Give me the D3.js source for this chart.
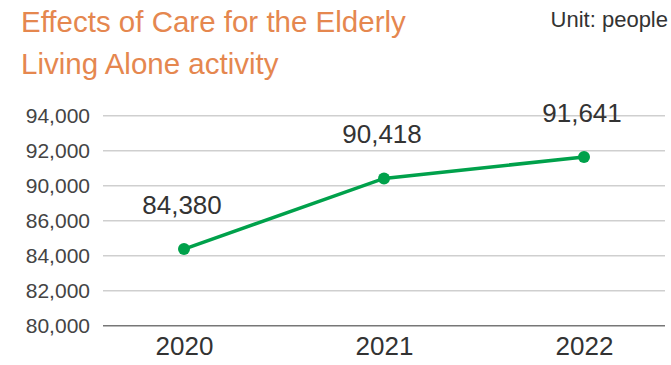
<!DOCTYPE html>
<html>
<head>
<meta charset="utf-8">
<script src="https://cdn.jsdelivr.net/npm/d3@7"></script>
<style>
  body { margin: 0; background: #fff; }
  text { font-family: "Liberation Sans", Arial, sans-serif; }
</style>
</head>
<body>
<div id="chart"></div>
<script>
// chart data
const years = ['2020', '2021', '2022'];
const people = [84380, 90418, 91641];
// the original axis skips 88,000 between 90,000 and 86,000
const tickValues = [80000, 82000, 84000, 86000, 90000, 92000, 94000];
const titleLines = ['Effects of Care for the Elderly', 'Living Alone activity'];
const unitLabel = 'Unit: people';

const width = 671, height = 365;
const plotLeft = 103, plotRight = 665, plotTop = 115.7, plotBottom = 325.7;

const svg = d3.select('#chart').append('svg')
    .attr('width', width)
    .attr('height', height);

// x: point scale over the years
const x = d3.scalePoint()
    .domain(years)
    .range([plotLeft, plotRight])
    .padding(0.405);

// y: one gridline per tick label, evenly spaced
const y = d3.scaleLinear()
    .domain(tickValues)
    .range(tickValues.map((d, i) => plotBottom - i * (plotBottom - plotTop) / (tickValues.length - 1)));

const fmt = d3.format(',');

// title
svg.append('g')
    .selectAll('text')
    .data(titleLines)
    .enter().append('text')
    .attr('x', 21)
    .attr('y', (d, i) => 32 + i * 42)
    .attr('fill', '#e5874f')
    .style('font-size', '29.5px')
    .text(d => d);

svg.append('text')
    .attr('x', 668)
    .attr('y', 27)
    .attr('text-anchor', 'end')
    .attr('fill', '#333')
    .style('font-size', '22px')
    .text(unitLabel);

// gridlines
svg.append('g')
    .selectAll('line')
    .data(tickValues)
    .enter().append('line')
    .attr('x1', plotLeft)
    .attr('x2', plotRight)
    .attr('y1', d => y(d))
    .attr('y2', d => y(d))
    .attr('stroke', d => d === tickValues[0] ? '#777' : '#cfcfcf')
    .attr('stroke-width', 1.5);

// y axis labels
const yAxis = svg.append('g')
    .attr('transform', `translate(${plotLeft},0)`)
    .call(d3.axisLeft(y).tickValues(tickValues).tickFormat(fmt).tickSize(0).tickPadding(13));
yAxis.select('.domain').remove();
yAxis.selectAll('text')
    .attr('fill', '#444')
    .style('font-size', '21px')
    .style('font-family', '"Liberation Sans", Arial, sans-serif');

// x axis labels
const xAxis = svg.append('g')
    .attr('transform', `translate(0,${plotBottom})`)
    .call(d3.axisBottom(x).tickSize(0).tickPadding(11));
xAxis.select('.domain').remove();
xAxis.selectAll('text')
    .attr('fill', '#333')
    .style('font-size', '26px')
    .style('font-family', '"Liberation Sans", Arial, sans-serif');

// line
const line = d3.line()
    .x((d, i) => x(years[i]))
    .y(d => y(d));

svg.append('path')
    .datum(people)
    .attr('d', line)
    .attr('fill', 'none')
    .attr('stroke', '#00a14b')
    .attr('stroke-width', 3.5);

svg.append('g')
    .selectAll('circle')
    .data(people)
    .enter().append('circle')
    .attr('cx', (d, i) => x(years[i]))
    .attr('cy', d => y(d))
    .attr('r', 6)
    .attr('fill', '#00a14b');

// value labels
svg.append('g')
    .selectAll('text')
    .data(people)
    .enter().append('text')
    .attr('x', (d, i) => x(years[i]) - 2)
    .attr('y', d => y(d) - 35)
    .attr('text-anchor', 'middle')
    .attr('fill', '#333')
    .style('font-size', '26px')
    .text(d => fmt(d));
</script>
</body>
</html>
